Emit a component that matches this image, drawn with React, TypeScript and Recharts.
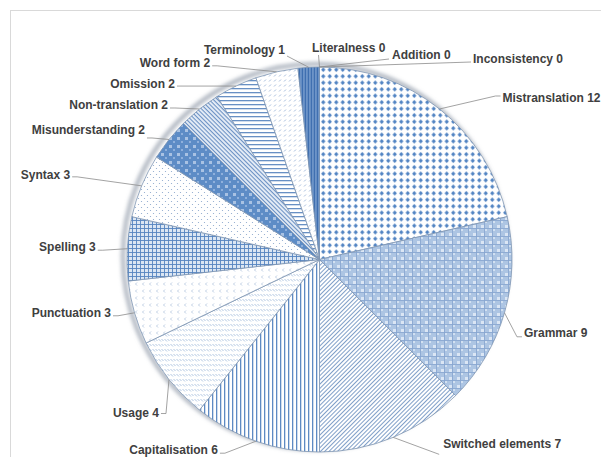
import React from 'react'
import { PieChart, Pie, Cell } from 'recharts'

const categories = [
  'Mistranslation', 'Grammar', 'Switched elements', 'Capitalisation', 'Usage',
  'Punctuation', 'Spelling', 'Syntax', 'Misunderstanding', 'Non-translation',
  'Omission', 'Word form', 'Terminology', 'Literalness', 'Addition', 'Inconsistency',
]
const errorCounts = [12, 9, 7, 6, 4, 3, 3, 3, 2, 2, 2, 2, 1, 0, 0, 0]

const data = categories.map((name, i) => ({ name, value: errorCounts[i] }))

// label placement relative to the slice's outer edge point (manual, Excel style)
type Lay = { dx: number; dy: number; anchor: 'start' | 'end'; lx: number; ly: number; elbow?: boolean }
const labelLayout: Lay[] = [
  { dx: 63, dy: -11, anchor: 'start', lx: -2, ly: -2 },
  { dx: 19.5, dy: 20, anchor: 'start', lx: -2, ly: 4 },
  { dx: 50, dy: 7, anchor: 'start', lx: -4, ly: 10, elbow: false },
  { dx: -38, dy: 9, anchor: 'end', lx: 2, ly: 3 },
  { dx: -10, dy: 33, anchor: 'end', lx: 2, ly: 1 },
  { dx: -23.5, dy: 0, anchor: 'end', lx: 2, ly: 3 },
  { dx: -31.5, dy: -1.5, anchor: 'end', lx: 2, ly: 3 },
  { dx: -71.5, dy: -11, anchor: 'end', lx: 2, ly: 2 },
  { dx: -24, dy: -9.5, anchor: 'end', lx: 2, ly: 8 },
  { dx: -31.5, dy: -3.5, anchor: 'end', lx: 2, ly: 2.5 },
  { dx: -61, dy: -2, anchor: 'end', lx: 2, ly: 2 },
  { dx: -66.5, dy: -9, anchor: 'end', lx: 2, ly: 3 },
  { dx: -23.7, dy: -17.3, anchor: 'end', lx: 2, ly: 6, elbow: false },
  { dx: -7.5, dy: -19, anchor: 'start', lx: 6.5, ly: 7, elbow: false },
  { dx: 72.5, dy: -12, anchor: 'start', lx: -3, ly: 4, elbow: false },
  { dx: 153.5, dy: -8, anchor: 'start', lx: -2, ly: 3, elbow: false },
]

const RAD = Math.PI / 180

function renderLabel(props: any) {
  const { cx, cy, midAngle, outerRadius, index, name, value } = props
  const lay = labelLayout[index]
  const ex = cx + outerRadius * Math.cos(-midAngle * RAD)
  const ey = cy + outerRadius * Math.sin(-midAngle * RAD)
  const tx = ex + lay.dx
  const ty = ey + lay.dy
  const endX = tx + lay.lx
  const endY = ty + lay.ly
  const dir = lay.anchor === 'start' ? 1 : -1
  const pts = lay.elbow === false
    ? `${ex},${ey} ${endX},${endY}`
    : `${ex},${ey} ${endX - dir * 5},${endY} ${endX},${endY}`
  return (
    <g key={`lbl-${index}`}>
      <polyline points={pts} fill="none" stroke="#8c8c8c" strokeWidth={0.8} />
      <text
        x={tx}
        y={ty}
        textAnchor={lay.anchor}
        dominantBaseline="central"
        fontFamily="'Liberation Sans', Arial, sans-serif"
        fontWeight="bold"
        fontSize={12}
        fill="#404040"
      >
        {`${name} ${value}`}
      </text>
    </g>
  )
}

function Patterns() {
  return (
    <svg width={0} height={0} style={{ position: 'absolute' }}>
      <defs>
        <pattern id="p0" width={6.5} height={6.5} patternUnits="userSpaceOnUse">
          <rect width={6.5} height={6.5} fill="#ffffff" />
          <path d="M3.25 1.0 L5.4 3.25 L3.25 5.5 L1.1 3.25 Z" fill="#4f82c2" />
        </pattern>
        <pattern id="p1" width={8} height={8} patternUnits="userSpaceOnUse">
          <rect width={8} height={8} fill="#adc5e3" />
          <rect x={1} y={1} width={3} height={3} fill="#dbe6f4" />
          <rect x={5} y={5} width={2} height={2} fill="#d3e1f1" />
          <path d="M0 4.5 H8 M4.5 0 V8" stroke="#86a5cf" strokeWidth={0.8} />
        </pattern>
        <pattern id="p2" width={3} height={3} patternUnits="userSpaceOnUse" patternTransform="rotate(-45)">
          <rect width={3} height={3} fill="#ffffff" />
          <rect width={3} height={1} fill="#7f9fc8" />
        </pattern>
        <pattern id="p3" width={4} height={4} patternUnits="userSpaceOnUse">
          <rect width={4} height={4} fill="#ffffff" />
          <rect x={0} width={1.3} height={4} fill="#5e8ac3" />
        </pattern>
        <pattern id="p4" width={6} height={5} patternUnits="userSpaceOnUse">
          <rect width={6} height={5} fill="#ffffff" />
          <path d="M0.5 1 L3 3.5 M3.5 1 L5.5 3" stroke="#9cb6d8" strokeWidth={0.8} />
        </pattern>
        <pattern id="p5" width={7} height={7} patternUnits="userSpaceOnUse">
          <rect width={7} height={7} fill="#ffffff" />
          <path d="M3 1.5 L1.5 3 L3 4.5" stroke="#9fb6d6" strokeWidth={0.7} fill="none" />
        </pattern>
        <pattern id="p6" width={4} height={4} patternUnits="userSpaceOnUse">
          <rect width={4} height={4} fill="#dbe6f3" />
          <path d="M0 0.5 H4 M0.5 0 V4" stroke="#5685c0" strokeWidth={0.9} />
        </pattern>
        <pattern id="p7" width={6} height={6} patternUnits="userSpaceOnUse">
          <rect width={6} height={6} fill="#ffffff" />
          <circle cx={1.5} cy={1.5} r={0.6} fill="#8aa6cc" />
          <circle cx={4.5} cy={4.5} r={0.6} fill="#8aa6cc" />
        </pattern>
        <pattern id="p8" width={8} height={8} patternUnits="userSpaceOnUse">
          <rect width={8} height={8} fill="#5d8cc6" />
          <rect x={1} y={1} width={3} height={3} fill="#a9c2e3" />
          <rect x={5} y={5} width={2} height={2} fill="#8fb0dc" />
        </pattern>
        <pattern id="p9" width={3} height={3} patternUnits="userSpaceOnUse" patternTransform="rotate(45)">
          <rect width={3} height={3} fill="#e8eff8" />
          <rect width={3} height={1.1} fill="#6a90c3" />
        </pattern>
        <pattern id="p10" width={4} height={4} patternUnits="userSpaceOnUse">
          <rect width={4} height={4} fill="#ffffff" />
          <rect y={0} width={4} height={1.3} fill="#6890c4" />
        </pattern>
        <pattern id="p11" width={5} height={5} patternUnits="userSpaceOnUse">
          <rect width={5} height={5} fill="#ffffff" />
          <path d="M1 3.5 L3 1.5" stroke="#8fabd2" strokeWidth={0.8} />
        </pattern>
        <pattern id="p12" width={3} height={3} patternUnits="userSpaceOnUse">
          <rect width={3} height={3} fill="#3f6fb0" />
          <rect x={1.5} width={0.9} height={3} fill="#9ab9e0" />
        </pattern>
        <filter id="edgeBlur" x="-10%" y="-10%" width="120%" height="120%">
          <feGaussianBlur stdDeviation={2} />
        </filter>
      </defs>
    </svg>
  )
}

export default function App() {
  const W = 601
  const H = 449
  const cx = 306.5
  const cy = 246.5
  const r = 192.5
  return (
    <div style={{ position: 'relative', width: W, height: H, overflow: 'hidden', background: '#ffffff' }}>
      <Patterns />
      <div
        style={{
          position: 'absolute', left: 2, top: 2, width: W + 20, height: H + 20,
          borderTop: '1px solid #d9d9d9', borderLeft: '1px solid #d9d9d9',
        }}
      />
      <svg width={W} height={H} style={{ position: 'absolute', left: 0, top: 0 }}>
        <circle cx={cx + 1} cy={cy + 2} r={r} fill="none" stroke="#8d97a6" strokeWidth={3} filter="url(#edgeBlur)" />
      </svg>
      <div style={{ position: 'absolute', left: 0, top: 0 }}>
        <PieChart width={W} height={H}>
          <Pie
            data={data}
            dataKey="value"
            nameKey="name"
            cx={cx}
            cy={cy}
            outerRadius={r}
            startAngle={90}
            endAngle={-270}
            stroke="#7f95b3"
            strokeWidth={0.8}
            label={renderLabel}
            labelLine={false}
            isAnimationActive={false}
          >
            {data.map((d, i) => (
              <Cell key={d.name} fill={`url(#p${Math.min(i, 12)})`} />
            ))}
          </Pie>
        </PieChart>
      </div>
    </div>
  )
}
